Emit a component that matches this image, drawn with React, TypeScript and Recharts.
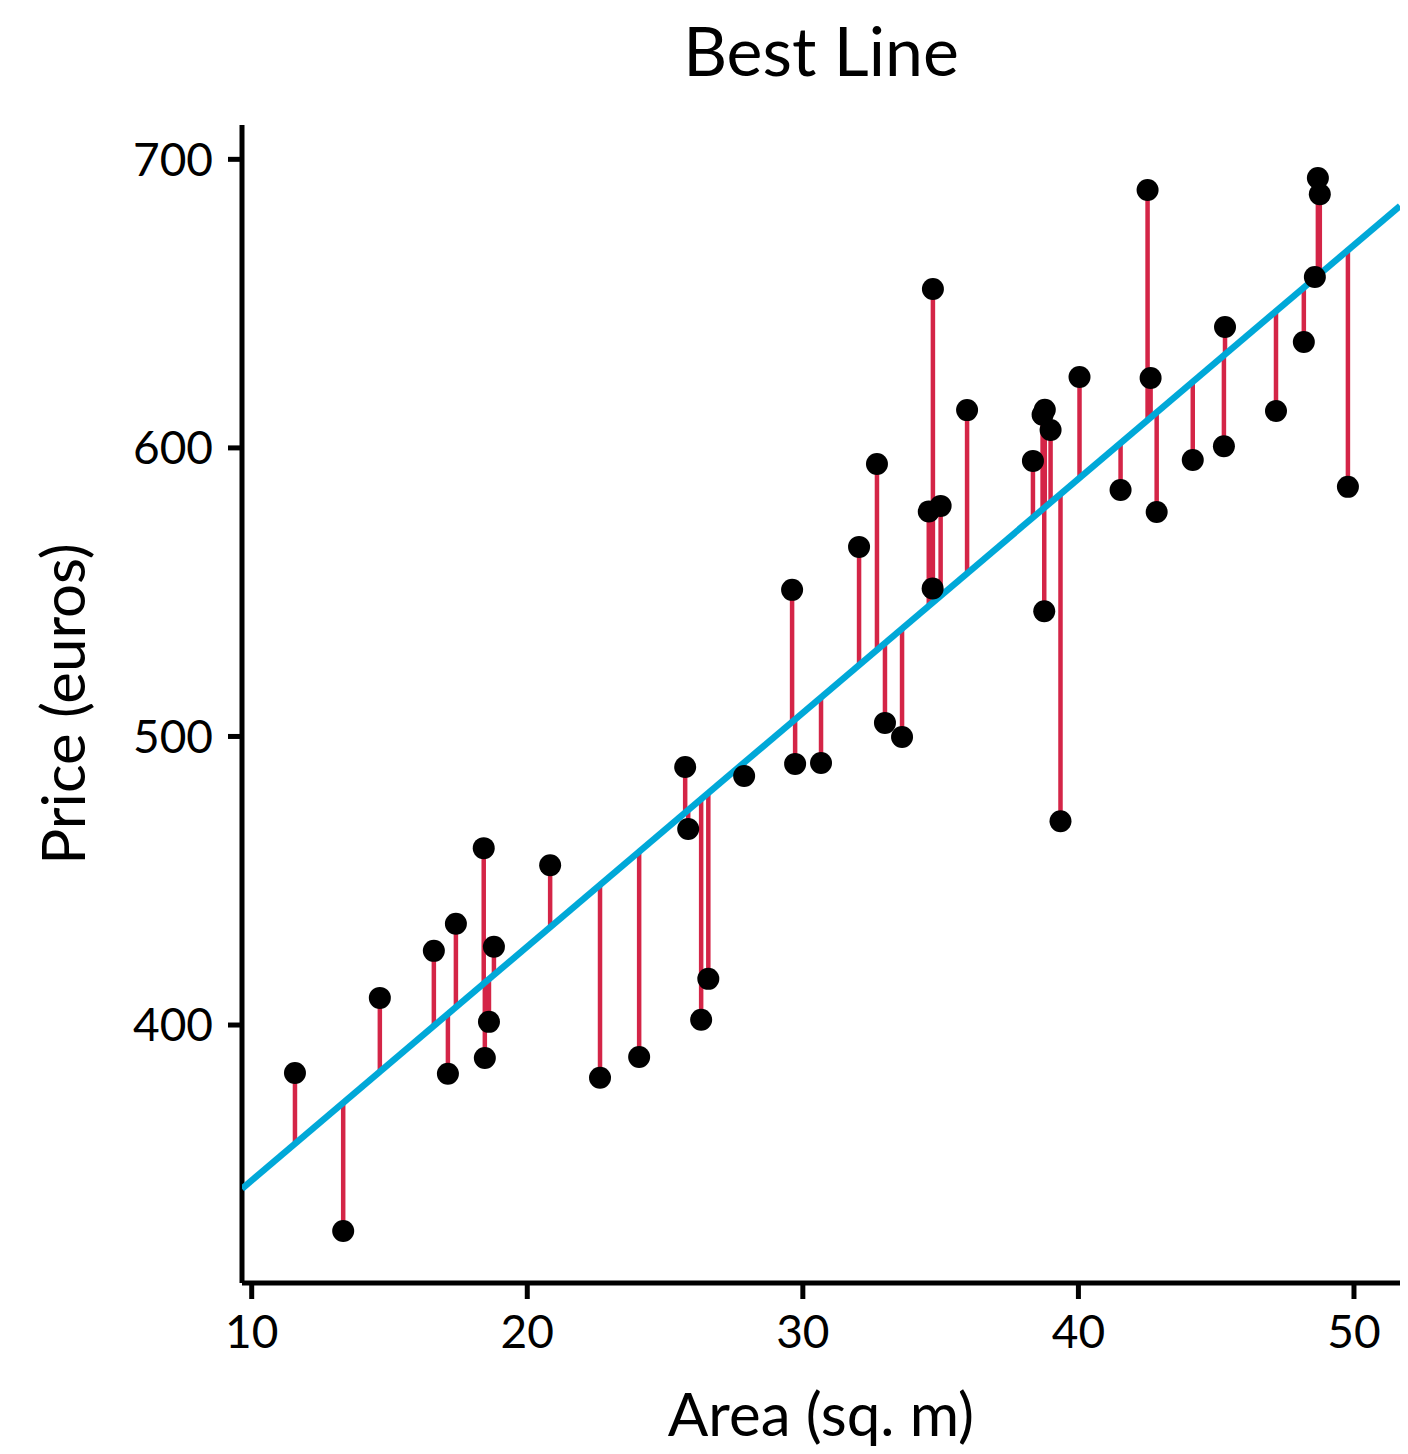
import { ScatterChart, Scatter, XAxis, YAxis } from 'recharts';

// Apartment area (sq. m) and price (euros)
const areas = [
  11.57, 13.32, 14.65, 16.61, 17.12, 17.41, 18.42, 18.46, 18.61, 18.79,
  20.83, 22.64, 24.06, 25.73, 25.84, 26.31, 26.57, 27.87, 29.61, 29.72,
  30.66, 32.04, 32.69, 32.98, 33.6, 34.72, 34.57, 35.0, 34.71, 35.96,
  38.35, 38.76, 38.7, 38.78, 38.99, 39.35, 40.04, 41.53, 42.51, 42.62,
  42.84, 44.15, 45.28, 45.32, 47.17, 48.18, 48.58, 48.69, 48.76, 49.78,
];
const prices = [
  383.4, 328.6, 409.4, 425.7, 383.1, 435.1, 461.3, 388.6, 401.1, 427.1,
  455.4, 381.7, 388.9, 489.4, 467.9, 401.8, 416.0, 486.3, 550.8, 490.5,
  490.8, 565.7, 594.4, 504.7, 499.8, 655.1, 578.0, 579.9, 551.3, 613.1,
  595.5, 543.4, 611.5, 613.2, 606.2, 470.6, 624.6, 585.4, 689.4, 624.2,
  577.8, 595.8, 600.6, 641.9, 612.8, 636.7, 659.2, 693.5, 687.9, 586.5,
];

// Fitted line as seen in the picture
const fitIntercept = 265.1;
const fitSlope = 8.104;

const xDomain = [9.648, 51.67];
const yDomain = [310.6, 711.9];
const xTicks = [10, 20, 30, 40, 50];
const yTicks = [400, 500, 600, 700];

const RED = '#d42547';
const BLUE = '#00a8d8';
const FONT = 'Lato, "Open Sans", sans-serif';

const points = areas.map((x, i) => ({ x, y: prices[i] }));
const fitAt = (x: number) => fitIntercept + fitSlope * x;
const fitLine = xDomain.map((x) => ({ x, y: fitAt(x) }));
const residuals = points.map((p) => [p, { x: p.x, y: fitAt(p.x) }]);

const Empty = () => <g />;
const Dot = ({ cx, cy }: any) => <circle cx={cx} cy={cy} r={11} fill="#000" />;

const App = () => {
  return (
    <div style={{ position: 'absolute', left: 0, top: 0, width: 1408, height: 1454, background: '#fff' }}>
      <ScatterChart width={1408} height={1454} margin={{ top: 125, right: 8, bottom: 0, left: 0 }}>
        <XAxis
          type="number"
          dataKey="x"
          domain={xDomain}
          ticks={xTicks}
          allowDataOverflow
          height={171}
          axisLine={{ stroke: '#000', strokeWidth: 5 }}
          tickLine={{ stroke: '#000', strokeWidth: 5 }}
          tickSize={16}
          tickMargin={16}
          tick={{ fill: '#000', fontSize: 46, fontFamily: FONT }}
        />
        <YAxis
          type="number"
          dataKey="y"
          domain={yDomain}
          ticks={yTicks}
          allowDataOverflow
          width={242}
          axisLine={{ stroke: '#000', strokeWidth: 5 }}
          tickLine={{ stroke: '#000', strokeWidth: 5 }}
          tickSize={14}
          tickMargin={15}
          tick={{ fill: '#000', fontSize: 46, fontFamily: FONT }}
        />
        {residuals.map((seg, i) => (
          <Scatter
            key={`res-${i}`}
            data={seg}
            line={{ stroke: RED, strokeWidth: 4.5 }}
            shape={Empty}
            isAnimationActive={false}
          />
        ))}
        <Scatter
          data={fitLine}
          line={{ stroke: BLUE, strokeWidth: 6.5 }}
          shape={Empty}
          isAnimationActive={false}
        />
        <Scatter data={points} shape={Dot} isAnimationActive={false} />
      </ScatterChart>
      <svg
        width={1408}
        height={1454}
        style={{ position: 'absolute', left: 0, top: 0, pointerEvents: 'none' }}
      >
        <text x={821} y={76} textAnchor="middle" fontSize={68} fontFamily={FONT} fill="#000">
          Best Line
        </text>
        <text x={821} y={1436} textAnchor="middle" fontSize={60} fontFamily={FONT} fill="#000">
          Area (sq. m)
        </text>
        <text
          transform="translate(85,704) rotate(-90)"
          textAnchor="middle"
          fontSize={60}
          fontFamily={FONT}
          fill="#000"
        >
          Price (euros)
        </text>
      </svg>
    </div>
  );
};

export default App;
